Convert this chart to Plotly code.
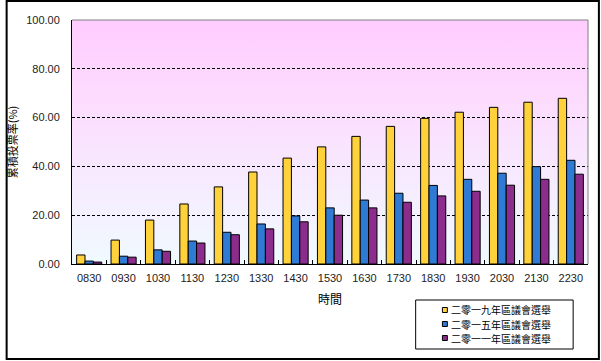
import base64
import plotly.graph_objects as go

# ---------------- data ----------------
times = ["0830", "0930", "1030", "1130", "1230", "1330", "1430", "1530",
         "1630", "1730", "1830", "1930", "2030", "2130", "2230"]
series_names = ["二零一九年區議會選舉", "二零一五年區議會選舉", "二零一一年區議會選舉"]
turnout_2019 = [3.7, 9.8, 18.0, 24.6, 31.6, 37.7, 43.4, 48.0, 52.3, 56.4, 59.7, 62.2, 64.2, 66.3, 67.9]
turnout_2015 = [1.2, 3.2, 5.8, 9.4, 13.0, 16.4, 19.7, 23.0, 26.2, 29.0, 32.2, 34.7, 37.2, 39.9, 42.5]
turnout_2011 = [0.8, 2.8, 5.2, 8.6, 12.0, 14.4, 17.3, 20.0, 23.0, 25.3, 27.9, 29.8, 32.3, 34.7, 36.8]
y_ticks = [0, 20, 40, 60, 80, 100]
x_title = "時間"
y_title = "累積投票率(%)"

# ---------------- style ----------------
colors = ["#FFD23C", "#2F7AD4", "#8C2C8C"]
W, H = 601, 361
L, R, T, B = 67, 13, 20, 97
PW, PH = W - L - R, H - T - B
FONT = "Liberation Sans, Arial, Noto Sans CJK TC, sans-serif"
CJK = "Noto Sans CJK TC, sans-serif"


def px(x):
    return (x - L) / PW


def py(y):
    return (H - B - y) / PH


fig = go.Figure()
for name, vals, col in zip(series_names, [turnout_2019, turnout_2015, turnout_2011], colors):
    fig.add_trace(go.Bar(
        x=times, y=vals, name=name,
        marker=dict(color=col, line=dict(color="black", width=1)),
        showlegend=False,
    ))

svg = ('<svg xmlns="http://www.w3.org/2000/svg" width="100" height="100" '
       'preserveAspectRatio="none"><defs><linearGradient id="g" x1="0" y1="0" x2="0" y2="1">'
       '<stop offset="0" stop-color="#FFCCFF"/><stop offset="0.35" stop-color="#FCDDFE"/>'
       '<stop offset="1" stop-color="#F0FAFF"/></linearGradient></defs>'
       '<rect width="100" height="100" fill="url(#g)"/></svg>')
bg_src = "data:image/svg+xml;base64," + base64.b64encode(svg.encode()).decode()

shapes = [
    # plot top/right border (gray)
    dict(type="line", xref="x domain", yref="y domain", x0=0, x1=1, y0=1, y1=1,
         line=dict(color="#808080", width=1)),
    dict(type="line", xref="x domain", yref="y domain", x0=1, x1=1, y0=0, y1=1,
         line=dict(color="#808080", width=1)),
    # outer frame
    dict(type="rect", xref="paper", yref="paper", x0=px(1), x1=px(599), y0=py(359), y1=py(1),
         line=dict(color="black", width=2), fillcolor="rgba(0,0,0,0)"),
    # legend box
    dict(type="rect", xref="paper", yref="paper", x0=px(414), x1=px(573), y0=py(349), y1=py(300),
         line=dict(color="black", width=1), fillcolor="white"),
]
annotations = []
leg_y = [310, 324, 338]
for name, col, yy in zip(series_names, colors, leg_y):
    shapes.append(dict(type="rect", xref="paper", yref="paper",
                       x0=px(441), x1=px(446), y0=py(yy + 2.5), y1=py(yy - 2.5),
                       line=dict(color="black", width=1), fillcolor=col))
    annotations.append(dict(text=name, xref="paper", yref="paper", x=px(448), y=py(yy),
                            xanchor="left", yanchor="middle", showarrow=False,
                            font=dict(family=CJK, size=10, color="black")))

fig.update_layout(
    width=W, height=H,
    margin=dict(l=L, r=R, t=T, b=B),
    paper_bgcolor="white",
    plot_bgcolor="rgba(0,0,0,0)",
    barmode="group", bargap=0.27, bargroupgap=0,
    font=dict(family=FONT, size=11, color="black"),
    shapes=shapes,
    annotations=annotations,
    images=[dict(source=bg_src, xref="x domain", yref="y domain", x=0, y=1,
                 sizex=1, sizey=1, xanchor="left", yanchor="top",
                 sizing="stretch", layer="below")],
    xaxis=dict(
        title=dict(text=x_title, font=dict(family=CJK, size=12, color="black"), standoff=12),
        showline=True, linecolor="black", linewidth=1,
        ticks="inside", ticklen=4, tickcolor="black", tickson="boundaries",
        ticklabelstandoff=4,
        tickfont=dict(family=FONT, size=11, color="#222"),
        showgrid=False,
    ),
    yaxis=dict(
        title=dict(text=y_title, font=dict(family=CJK, size=11, color="black"), standoff=6),
        range=[0, 100], tickvals=y_ticks, tickformat=".2f",
        showline=True, linecolor="black", linewidth=1,
        ticks="", ticklabelstandoff=9,
        tickfont=dict(family=FONT, size=11, color="#222"),
        showgrid=True, gridcolor="black", gridwidth=1, griddash="3px,2px",
        zeroline=False,
    ),
)

fig.write_html("out.html", config={"displayModeBar": False},
               post_script="document.body.style.margin='0px';")
